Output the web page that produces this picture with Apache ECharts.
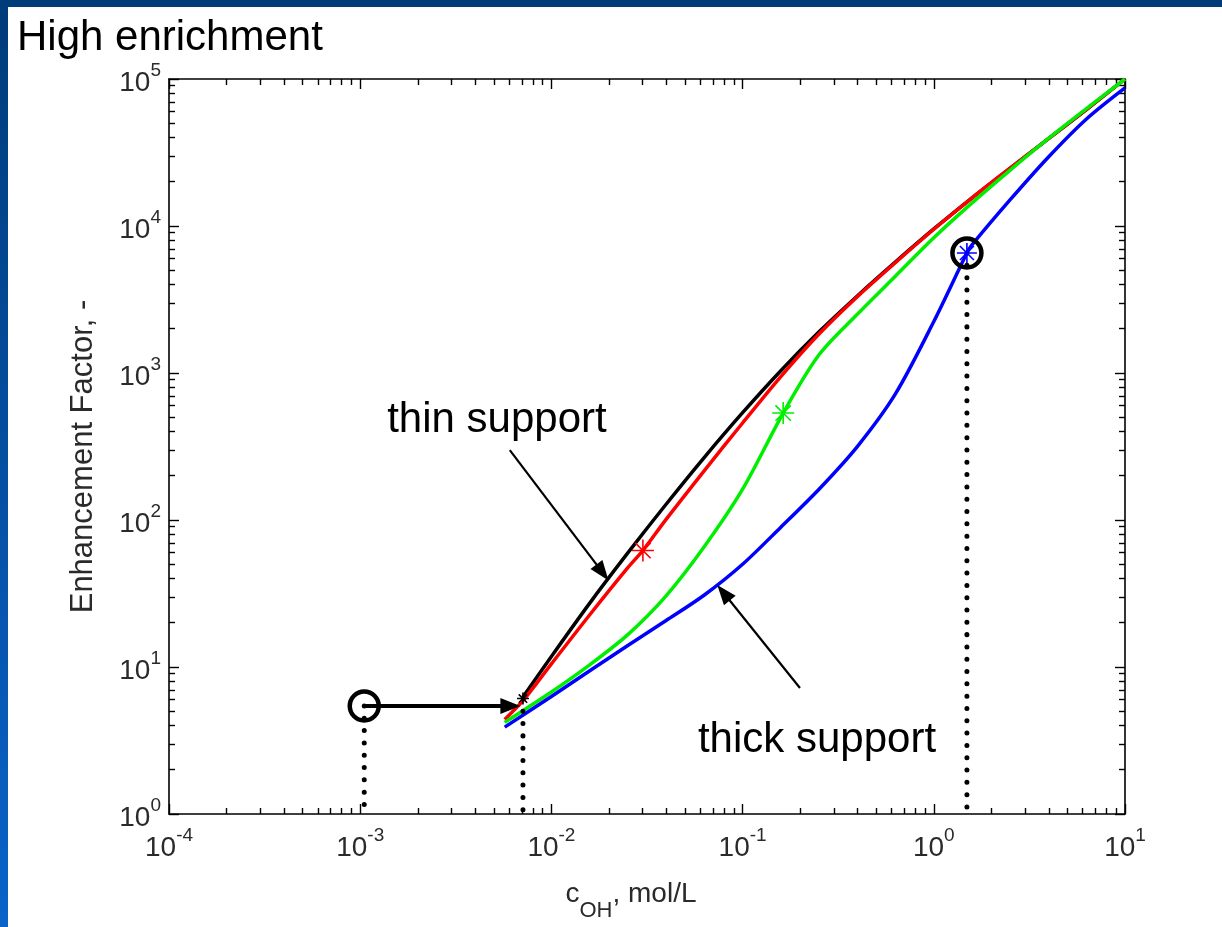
<!DOCTYPE html>
<html>
<head>
<meta charset="utf-8">
<title>High enrichment</title>
<script src="https://cdn.jsdelivr.net/npm/echarts@6/dist/echarts.min.js"></script>
<style>
	html, body { margin: 0; padding: 0; background: #fff; }
	#chart { position: absolute; left: 0; top: 0; width: 1222px; height: 927px; background: #fff; }
	#barTop { position: absolute; left: 0; top: 0; width: 1222px; height: 7px; background: #003b7a; }
	#barLeft { position: absolute; left: 0; top: 0; width: 8px; height: 927px; background: linear-gradient(#003b7a, #0a63c9); }
</style>
</head>
<body>
<div id="chart"></div>
<div id="barTop"></div>
<div id="barLeft"></div>
<script>
'use strict';

var FONT = "'Liberation Sans', Arial, sans-serif";

// curves (c_OH in mol/L, enhancement factor)
var blackX = [0.0071, 0.01, 0.0158, 0.0251, 0.0398, 0.0631, 0.1, 0.158, 0.251, 0.398, 0.631, 1, 1.58, 2.51, 3.98, 6.31, 10];
var blackY = [6.25, 11.8, 27.0, 59.7, 128, 267, 537, 1033, 1905, 3342, 5702, 9550, 15490, 24770, 39260, 62230, 100000];

var redX = [0.0057, 0.0071, 0.01, 0.0158, 0.0251, 0.0301, 0.0398, 0.0631, 0.1, 0.158, 0.251, 0.398, 0.631, 1, 1.58, 2.51, 3.98, 6.31, 10];
var redY = [4.4, 5.9, 10.5, 22.5, 47.4, 62, 101, 217, 457, 942, 1841, 3304, 5650, 9500, 15500, 24800, 39300, 62300, 100000];

var greenX = [0.0057, 0.01, 0.0158, 0.0251, 0.0398, 0.0631, 0.1, 0.163, 0.251, 0.398, 0.631, 1, 1.58, 2.51, 3.98, 6.31, 10];
var greenY = [4.2, 6.76, 10.3, 16.6, 30.5, 66, 162, 534, 1330, 2510, 4570, 8320, 14300, 24000, 39400, 63100, 100000];

var blueX = [0.0057, 0.01, 0.0158, 0.0251, 0.0398, 0.0631, 0.1, 0.158, 0.251, 0.398, 0.631, 1, 1.49, 1.58, 2.51, 3.98, 6.31, 10];
var blueY = [3.9, 6.3, 9.4, 14.0, 20.7, 30.9, 50, 89, 162, 316, 724, 2240, 6550, 7410, 15100, 29500, 53700, 87100];

// '*' markers on the curves
var starX = [0.0071, 0.0301, 0.163, 1.49];
var starY = [6.1, 62, 534, 6550];
var starColor = ['#000000', '#ff0000', '#00ee00', '#0000ff'];
var starSize = [12, 22, 22, 20];

// open circles and dotted drop lines
var ringX = [0.00105, 1.49];
var ringY = [5.43, 6550];
var dropX = [0.00105, 0.0071, 1.49];
var dropTop = [5.43, 5.0, 6550];

// arrows
var shiftFrom = [0.00105, 5.43];
var shiftTo = [0.0061, 5.43];
var thinFrom = [0.00606, 299];
var thinTo = [0.0185, 44];
var thickFrom = [0.1995, 7.2];
var thickTo = [0.0795, 32];

// annotation texts
var notes = ['thin support', 'thick support'];
var noteX = [0.00519, 0.245];
var noteY = [479, 3.19];

// tick labels
var xMajor = [1e-4, 1e-3, 1e-2, 1e-1, 1, 10];
var yMajor = [1, 10, 100, 1000, 1e4, 1e5];

function minorsOf(majors) {
	var out = [];
	for (var i = 0; i < majors.length - 1; i++) {
		for (var k = 2; k <= 9; k++) {
			out.push(k * majors[i]);
		}
	}
	return out;
}

function pairs(xs, ys) {
	return xs.map(function (x, i) { return [x, ys[i]]; });
}

function expLabel(v) {
	var e = Math.round(Math.log10(v));
	return '{b|10}{s|' + e + '}';
}

var labelRich = {
	b: { fontSize: 28, fontFamily: FONT, color: '#2a2a2a', lineHeight: 36, verticalAlign: 'bottom' },
	s: { fontSize: 19, fontFamily: FONT, color: '#2a2a2a', lineHeight: 14, verticalAlign: 'top' }
};

var GRID = { left: 169, top: 79, width: 956, height: 735, outerBoundsMode: 'none' };

function axis(kind, gridIndex, position, ticks, tickLen, withLine, withLabels, extra) {
	var a = {
		type: 'log',
		logBase: 10,
		gridIndex: gridIndex,
		position: position,
		min: kind === 'x' ? 1e-4 : 1,
		max: kind === 'x' ? 10 : 1e5,
		splitLine: { show: false },
		axisLine: { show: withLine, lineStyle: { color: '#000', width: 1.6 } },
		axisTick: { show: true, inside: true, length: tickLen, customValues: ticks, lineStyle: { color: '#000', width: 1.4 } },
		axisLabel: { show: false }
	};
	if (withLabels) {
		a.axisLabel = {
			show: true,
			customValues: ticks,
			margin: kind === 'x' ? 12 : 8,
			formatter: expLabel,
			rich: labelRich
		};
	}
	if (extra) {
		for (var k in extra) a[k] = extra[k];
	}
	return a;
}

var xMinor = minorsOf(xMajor);
var yMinor = minorsOf(yMajor);

var chart = echarts.init(document.getElementById('chart'));

var series = [];

[
	{ x: blackX, y: blackY, c: '#000000' },
	{ x: redX, y: redY, c: '#ff0000' },
	{ x: greenX, y: greenY, c: '#00ee00' },
	{ x: blueX, y: blueY, c: '#0000ff' }
].forEach(function (cv, i) {
	series.push({
		type: 'line',
		data: pairs(cv.x, cv.y),
		showSymbol: false,
		smooth: 0.3,
		z: 3 + i,
		lineStyle: { color: cv.c, width: 3.5 },
		silent: true
	});
});

// dotted drop lines
dropX.forEach(function (x, i) {
	series.push({
		type: 'line',
		data: [[x, dropTop[i]], [x, 1]],
		showSymbol: false,
		z: 8,
		silent: true,
		lineStyle: { color: '#000', width: 5, type: [0.01, 12.3], cap: 'round' }
	});
});

// '*' markers
series.push({
	type: 'scatter',
	z: 9,
	silent: true,
	symbol: 'path://M10 0 L10 20 M0 10 L20 10 M3 3 L17 17 M3 17 L17 3',
	data: starX.map(function (x, i) {
		return {
			value: [x, starY[i]],
			symbolSize: starSize[i],
			itemStyle: { color: 'transparent', borderColor: starColor[i], borderWidth: 1.6, opacity: 1 }
		};
	})
});

// open rings
series.push({
	type: 'scatter',
	z: 10,
	silent: true,
	symbol: 'circle',
	symbolSize: 29,
	data: pairs(ringX, ringY),
	itemStyle: { color: 'transparent', borderColor: '#000', borderWidth: 4.5, opacity: 1 }
});

// horizontal shift arrow
series.push({
	type: 'line',
	data: [],
	z: 10,
	markLine: {
		silent: true,
		symbol: ['none', 'triangle'],
		symbolSize: [16, 20],
		label: { show: false },
		lineStyle: { color: '#000', width: 4, type: 'solid', opacity: 1 },
		data: [[{ coord: shiftFrom }, { coord: shiftTo }]]
	}
});

// annotation arrows and texts
series.push({
	type: 'line',
	data: [],
	z: 10,
	markLine: {
		silent: true,
		symbol: ['none', 'triangle'],
		symbolSize: [15, 20],
		label: { show: false },
		lineStyle: { color: '#000', width: 2.2, type: 'solid', opacity: 1 },
		data: [
			[{ coord: thinFrom }, { coord: thinTo }],
			[{ coord: thickFrom }, { coord: thickTo }]
		]
	},
	markPoint: {
		silent: true,
		symbol: 'circle',
		symbolSize: 1,
		itemStyle: { color: 'transparent' },
		label: { show: true, position: 'inside', color: '#000', fontSize: 42, fontFamily: FONT },
		data: notes.map(function (t, i) {
			return { coord: [noteX[i], noteY[i]], label: { formatter: t } };
		})
	}
});

var option = {
	animation: false,
	backgroundColor: '#ffffff',
	title: {
		text: 'High enrichment',
		left: 12,
		top: 12,
		textStyle: { fontSize: 42, fontWeight: 'normal', fontFamily: FONT, color: '#000' }
	},
	grid: [GRID, Object.assign({}, GRID)],
	xAxis: [
		axis('x', 0, 'bottom', xMajor, 10, true, true, {
			name: '{n|c}{sub|OH}{n|, mol/L}',
			nameLocation: 'middle',
			nameGap: 66,
			nameTextStyle: {
				padding: [0, 32, 0, 0],
				rich: {
					n: { fontSize: 28, fontFamily: FONT, color: '#2a2a2a', lineHeight: 30, verticalAlign: 'top' },
					sub: { fontSize: 22, fontFamily: FONT, color: '#2a2a2a', lineHeight: 22, padding: [20, 0, 0, 0], verticalAlign: 'top' }
				}
			}
		}),
		axis('x', 0, 'top', xMajor, 10, true, false),
		axis('x', 1, 'bottom', xMinor, 6, false, false),
		axis('x', 1, 'top', xMinor, 6, false, false)
	],
	yAxis: [
		axis('y', 0, 'left', yMajor, 10, true, true, {
			name: 'Enhancement Factor, -',
			nameLocation: 'middle',
			nameRotate: 90,
			nameGap: 70,
			nameTextStyle: { fontSize: 31, fontFamily: FONT, color: '#2a2a2a', padding: [0, 20, 0, 0] }
		}),
		axis('y', 0, 'right', yMajor, 10, true, false),
		axis('y', 1, 'left', yMinor, 6, false, false),
		axis('y', 1, 'right', yMinor, 6, false, false)
	],
	series: series
};

chart.setOption(option);
</script>
</body>
</html>
